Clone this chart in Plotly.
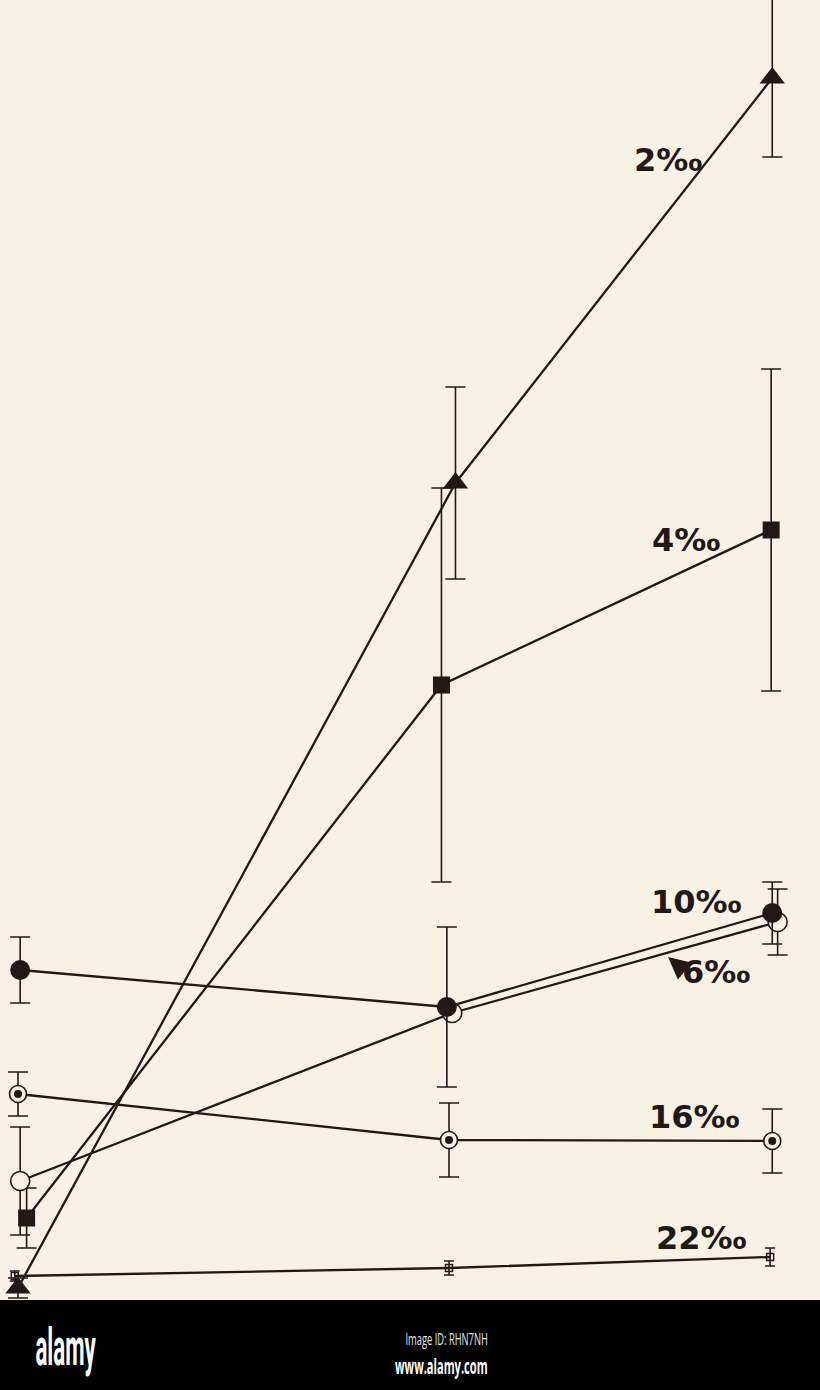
import plotly.graph_objects as go

# ---- data (x: time units, y: response units) ----
series_names = ["2‰", "4‰", "6‰", "10‰", "16‰", "22‰"]

x_2 = [0.00, 4.06, 7.00]
y_2 = [0.02, 8.07, 12.12]
e_2 = [0.10, 0.96, 0.79]

x_4 = [0.08, 3.93, 6.99]
y_4 = [0.72, 6.05, 7.60]
e_4 = [0.30, 1.97, 1.61]

x_6 = [0.02, 4.03, 7.05]
y_6 = [1.09, 2.77, 3.68]
e_6 = [0.54, 0.00, 0.33]

x_10 = [0.02, 3.98, 7.00]
y_10 = [3.20, 2.83, 3.77]
e_10 = [0.33, 0.80, 0.31]

x_16 = [0.00, 4.00, 7.00]
y_16 = [1.96, 1.50, 1.49]
e_16 = [0.22, 0.37, 0.32]

x_22 = [-0.03, 4.00, 6.98]
y_22 = [0.14, 0.22, 0.33]
e_22 = [0.05, 0.07, 0.09]

# ---- style ----
BG = "#f8f2e4"
INK = "#241816"
PX_PER_X = 107.75
X0_PX = 18.0
Y0_PX = 1290.0
PX_PER_Y = 100.0


def ax_x(px):
    return (px - X0_PX) / PX_PER_X


def ax_y(py):
    return (Y0_PX - py) / PX_PER_Y


fig = go.Figure()


def err(vals, w=10):
    return dict(type="data", array=vals, visible=True, color=INK,
                thickness=1.6, width=w)


def add_series(x, y, e, symbol, size, fill, line_w=0, cap=10):
    fig.add_trace(go.Scatter(
        x=x, y=y, mode="lines+markers",
        line=dict(color=INK, width=2.3),
        marker=dict(symbol=symbol, size=size, color=fill,
                    line=dict(color=INK, width=line_w)),
        error_y=err(e, cap), showlegend=False, hoverinfo="skip"))


add_series(x_2, y_2, e_2, "triangle-up", 22, INK)
add_series(x_4, y_4, e_4, "square", 17, INK)
add_series(x_22, y_22, e_22, "square-open", 7, INK, 1.5, 5)
add_series(x_16, y_16, e_16, "circle", 17, BG, 1.6)
fig.add_trace(go.Scatter(x=x_16, y=y_16, mode="markers",
                         marker=dict(symbol="circle", size=8, color=INK),
                         showlegend=False, hoverinfo="skip"))
add_series(x_6, y_6, e_6, "circle", 19, BG, 1.6)
add_series(x_10, y_10, e_10, "circle", 20, INK)

# ---- labels ----
label_pos = [
    ("2‰", 668, 160),
    ("4‰", 686, 540),
    ("10‰", 696, 902),
    ("6‰", 716, 972),
    ("16‰", 694, 1117),
    ("22‰", 701, 1238),
]
for txt, px, py in label_pos:
    fig.add_annotation(x=ax_x(px), y=ax_y(py), text="<b>" + txt + "</b>",
                       showarrow=False, xref="x", yref="y",
                       xanchor="center", yanchor="middle",
                       font=dict(family="DejaVu Sans", size=32, color=INK))

# arrow of the 6‰ label
fig.add_annotation(x=ax_x(668), y=ax_y(957), ax=ax_x(686), ay=ax_y(972),
                   xref="x", yref="y", axref="x", ayref="y", text="",
                   showarrow=True, arrowhead=2, arrowsize=1.1,
                   arrowwidth=4, arrowcolor=INK)

# ---- black footer band ----
BAND = 90 / 1390
fig.add_shape(type="rect", xref="paper", yref="paper", x0=0, x1=1,
              y0=0, y1=BAND, fillcolor="black", line=dict(width=0),
              layer="above")
fig.add_annotation(xref="paper", yref="paper", x=65 / 820, y=43 / 1390,
                   text="<b>alamy</b>", showarrow=False,
                   xanchor="center", yanchor="middle",
                   font=dict(family="Roboto", size=52, color="white"))
fig.add_annotation(xref="paper", yref="paper", x=490 / 820, y=38 / 1390,
                   text="Image ID: RHN7NH", showarrow=False,
                   xanchor="right", yanchor="bottom",
                   font=dict(family="Open Sans", size=17, color="#e6e6e6"))
fig.add_annotation(xref="paper", yref="paper", x=490 / 820, y=40 / 1390,
                   text="<b>www.alamy.com</b>", showarrow=False,
                   xanchor="right", yanchor="top",
                   font=dict(family="Open Sans", size=21, color="white"))

fig.update_layout(
    width=820, height=1390,
    margin=dict(l=0, r=0, t=0, b=0),
    paper_bgcolor=BG, plot_bgcolor=BG,
    xaxis=dict(range=[ax_x(0), ax_x(820)], visible=False, fixedrange=True),
    yaxis=dict(range=[ax_y(1300), ax_y(0)], visible=False, fixedrange=True,
               domain=[BAND, 1]),
)

post = """
document.body.style.margin='0';
document.body.style.padding='0';
document.body.style.overflow='hidden';
var squeeze = {'alamy': [0.43, 'center'],
               'Image ID: RHN7NH': [0.55, 'right'],
               'www.alamy.com': [0.53, 'right']};
document.querySelectorAll('text.annotation-text').forEach(function(t){
  var s = squeeze[t.textContent];
  if (s) {
    t.style.transformBox = 'fill-box';
    t.style.transformOrigin = s[1] + ' center';
    t.style.transform = 'scaleX(' + s[0] + ')';
  }
});
"""

fig.write_html("out.html", config={"displayModeBar": False}, post_script=post)
